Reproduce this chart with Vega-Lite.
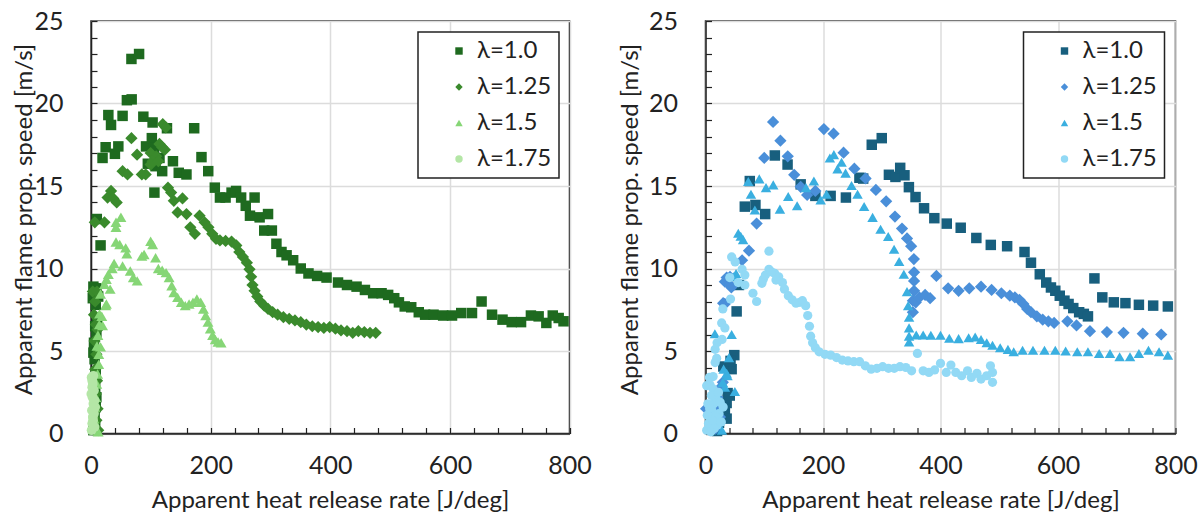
{
"$schema": "https://vega.github.io/schema/vega-lite/v6.json",
"autosize": {"type": "pad"},
"padding": {"left": 11, "top": 8, "right": 5, "bottom": 5},
"background": "white",
"bounds": "flush",
"spacing": 135.5,
"config": {
  "font": "Lato",
  "view": {"stroke": "#222", "strokeWidth": 1.5},
  "axis": {"domainColor": "#222", "domainWidth": 1.5, "tickColor": "#222", "tickWidth": 1.2, "tickSize": -6, "gridColor": "#dcdcdc", "gridWidth": 1.5, "labelFont": "Lato", "labelFontSize": 25, "labelColor": "#222", "titleFont": "Lato", "titleFontSize": 24, "titleFontWeight": "normal", "titleColor": "#222", "labelFlush": false, "labelOverlap": false},
  "axisX": {"labelPadding": 26},
  "axisY": {"labelPadding": 34},
  "legend": {"strokeColor": "#222", "strokeWidth": 1.5, "fillColor": "white", "padding": 7, "labelFont": "Lato", "labelFontSize": 24, "labelColor": "#222", "symbolSize": 55, "rowPadding": 12, "labelOffset": 6, "symbolOffset": 22, "orient": "top-right", "offset": 11}
},
"resolve": {"scale": {"color": "independent", "shape": "independent"}, "legend": {"color": "independent", "shape": "independent"}},
"datasets": {
"L": [
{"s":"λ=1.0","x":67.6,"y":22.7},{"s":"λ=1.0","x":80.4,"y":23.0},{"s":"λ=1.0","x":60,"y":20.2},{"s":"λ=1.0","x":68,"y":20.25},{"s":"λ=1.0","x":29,"y":19.3},{"s":"λ=1.0","x":33.5,"y":18.7},{"s":"λ=1.0","x":52.8,"y":19.25},{"s":"λ=1.0","x":87.5,"y":19.2},{"s":"λ=1.0","x":103,"y":18.85},{"s":"λ=1.0","x":127,"y":18.5},{"s":"λ=1.0","x":172.5,"y":18.5},{"s":"λ=1.0","x":24.5,"y":17.35},{"s":"λ=1.0","x":19.3,"y":16.7},{"s":"λ=1.0","x":40,"y":16.95},{"s":"λ=1.0","x":45.7,"y":17.4},{"s":"λ=1.0","x":92,"y":17.4},{"s":"λ=1.0","x":101.7,"y":17.9},{"s":"λ=1.0","x":105.5,"y":17.3},{"s":"λ=1.0","x":95,"y":16.35},{"s":"λ=1.0","x":108,"y":16.2},{"s":"λ=1.0","x":114.5,"y":16.7},{"s":"λ=1.0","x":119,"y":15.9},{"s":"λ=1.0","x":137,"y":16.5},{"s":"λ=1.0","x":146.7,"y":15.8},{"s":"λ=1.0","x":159.6,"y":15.7},{"s":"λ=1.0","x":184.7,"y":16.75},{"s":"λ=1.0","x":196,"y":15.9},{"s":"λ=1.0","x":106,"y":14.6},{"s":"λ=1.0","x":207,"y":14.9},{"s":"λ=1.0","x":215.6,"y":14.3},{"s":"λ=1.0","x":225,"y":14.3},{"s":"λ=1.0","x":235,"y":14.6},{"s":"λ=1.0","x":242.6,"y":14.7},{"s":"λ=1.0","x":251,"y":14.3},{"s":"λ=1.0","x":258.7,"y":13.8},{"s":"λ=1.0","x":273.5,"y":14.3},{"s":"λ=1.0","x":265.8,"y":13.2},{"s":"λ=1.0","x":281.9,"y":13.1},{"s":"λ=1.0","x":296,"y":13.3},{"s":"λ=1.0","x":289.6,"y":12.3},{"s":"λ=1.0","x":302.4,"y":12.3},{"s":"λ=1.0","x":310,"y":11.5},{"s":"λ=1.0","x":318.5,"y":11.0},{"s":"λ=1.0","x":327,"y":10.8},{"s":"λ=1.0","x":338,"y":10.5},{"s":"λ=1.0","x":350.7,"y":10.0},{"s":"λ=1.0","x":363.6,"y":9.7},{"s":"λ=1.0","x":378,"y":9.55},{"s":"λ=1.0","x":393.8,"y":9.45},{"s":"λ=1.0","x":413,"y":9.15},{"s":"λ=1.0","x":428,"y":9.0},{"s":"λ=1.0","x":444,"y":8.9},{"s":"λ=1.0","x":458,"y":8.7},{"s":"λ=1.0","x":471.7,"y":8.5},{"s":"λ=1.0","x":485.8,"y":8.5},{"s":"λ=1.0","x":496.8,"y":8.4},{"s":"λ=1.0","x":507,"y":8.2},{"s":"λ=1.0","x":514.8,"y":7.95},{"s":"λ=1.0","x":524.5,"y":7.7},{"s":"λ=1.0","x":535.4,"y":7.65},{"s":"λ=1.0","x":548,"y":7.35},{"s":"λ=1.0","x":558.6,"y":7.2},{"s":"λ=1.0","x":572.7,"y":7.2},{"s":"λ=1.0","x":588.8,"y":7.15},{"s":"λ=1.0","x":603.6,"y":7.15},{"s":"λ=1.0","x":619,"y":7.3},{"s":"λ=1.0","x":637,"y":7.3},{"s":"λ=1.0","x":653,"y":8.0},{"s":"λ=1.0","x":670.5,"y":7.2},{"s":"λ=1.0","x":688,"y":6.9},{"s":"λ=1.0","x":703.4,"y":6.75},{"s":"λ=1.0","x":719,"y":6.75},{"s":"λ=1.0","x":735.5,"y":7.15},{"s":"λ=1.0","x":748.4,"y":7.1},{"s":"λ=1.0","x":761.3,"y":6.7},{"s":"λ=1.0","x":772,"y":7.15},{"s":"λ=1.0","x":781.9,"y":7.0},{"s":"λ=1.0","x":790,"y":6.8},
{"s":"λ=1.0","x":9.7,"y":13.0},{"s":"λ=1.0","x":16,"y":11.4},{"s":"λ=1.0","x":4,"y":8.9},{"s":"λ=1.0","x":6.4,"y":8.5},{"s":"λ=1.0","x":9,"y":8.8},{"s":"λ=1.0","x":12,"y":8.3},{"s":"λ=1.0","x":3,"y":8.2},{"s":"λ=1.0","x":8,"y":7.8},{"s":"λ=1.0","x":10,"y":6.8},{"s":"λ=1.0","x":7,"y":6.5},{"s":"λ=1.0","x":9,"y":6.1},{"s":"λ=1.0","x":5,"y":5.5},{"s":"λ=1.0","x":4,"y":4.9},{"s":"λ=1.0","x":6,"y":4.5},{"s":"λ=1.0","x":8,"y":3.6},{"s":"λ=1.0","x":7,"y":2.8},{"s":"λ=1.0","x":9,"y":2.2},{"s":"λ=1.0","x":8,"y":1.6},{"s":"λ=1.0","x":6,"y":1.0},{"s":"λ=1.0","x":7,"y":0.5},{"s":"λ=1.0","x":4,"y":0.2},
{"s":"λ=1.25","x":67.6,"y":17.9},{"s":"λ=1.25","x":77,"y":16.9},{"s":"λ=1.25","x":52.8,"y":15.9},{"s":"λ=1.25","x":61,"y":15.7},{"s":"λ=1.25","x":85,"y":15.7},{"s":"λ=1.25","x":91.4,"y":15.7},{"s":"λ=1.25","x":120,"y":18.75},{"s":"λ=1.25","x":125,"y":18.55},{"s":"λ=1.25","x":114.5,"y":17.55},{"s":"λ=1.25","x":119,"y":17.35},{"s":"λ=1.25","x":123.5,"y":17.2},{"s":"λ=1.25","x":99.7,"y":17.0},{"s":"λ=1.25","x":109,"y":16.8},{"s":"λ=1.25","x":103,"y":16.5},{"s":"λ=1.25","x":99.7,"y":16.3},{"s":"λ=1.25","x":112.6,"y":16.5},{"s":"λ=1.25","x":33.5,"y":14.7},{"s":"λ=1.25","x":27.7,"y":14.3},{"s":"λ=1.25","x":37.3,"y":14.25},{"s":"λ=1.25","x":43,"y":14.0},{"s":"λ=1.25","x":22.5,"y":12.8},{"s":"λ=1.25","x":6.4,"y":12.8},{"s":"λ=1.25","x":128.7,"y":14.9},{"s":"λ=1.25","x":134,"y":14.6},{"s":"λ=1.25","x":138.5,"y":14.1},{"s":"λ=1.25","x":144.8,"y":13.4},{"s":"λ=1.25","x":153,"y":14.25},{"s":"λ=1.25","x":159.6,"y":13.3},{"s":"λ=1.25","x":166,"y":12.5},{"s":"λ=1.25","x":173.7,"y":12.1},{"s":"λ=1.25","x":181.5,"y":13.2},{"s":"λ=1.25","x":190,"y":12.8},{"s":"λ=1.25","x":196.3,"y":12.5},{"s":"λ=1.25","x":202.7,"y":12.1},{"s":"λ=1.25","x":209,"y":11.8},{"s":"λ=1.25","x":215.6,"y":11.7},{"s":"λ=1.25","x":225,"y":11.67},{"s":"λ=1.25","x":235,"y":11.63},{"s":"λ=1.25","x":243,"y":11.4},{"s":"λ=1.25","x":248,"y":11.0},{"s":"λ=1.25","x":254,"y":10.7},{"s":"λ=1.25","x":260.6,"y":10.35},{"s":"λ=1.25","x":265,"y":9.95},{"s":"λ=1.25","x":267.7,"y":9.5},{"s":"λ=1.25","x":270,"y":9.0},{"s":"λ=1.25","x":273.5,"y":8.65},{"s":"λ=1.25","x":278,"y":8.3},{"s":"λ=1.25","x":283,"y":8.0},{"s":"λ=1.25","x":289.6,"y":7.75},{"s":"λ=1.25","x":296,"y":7.55},{"s":"λ=1.25","x":303.7,"y":7.35},{"s":"λ=1.25","x":312,"y":7.2},{"s":"λ=1.25","x":321.7,"y":7.05},{"s":"λ=1.25","x":331.4,"y":6.95},{"s":"λ=1.25","x":341,"y":6.85},{"s":"λ=1.25","x":350.7,"y":6.75},{"s":"λ=1.25","x":360,"y":6.6},{"s":"λ=1.25","x":370,"y":6.5},{"s":"λ=1.25","x":379.7,"y":6.45},{"s":"λ=1.25","x":389.3,"y":6.4},{"s":"λ=1.25","x":399,"y":6.45},{"s":"λ=1.25","x":408.6,"y":6.35},{"s":"λ=1.25","x":418,"y":6.25},{"s":"λ=1.25","x":428,"y":6.2},{"s":"λ=1.25","x":437.6,"y":6.1},{"s":"λ=1.25","x":447,"y":6.2},{"s":"λ=1.25","x":457,"y":6.15},{"s":"λ=1.25","x":466.5,"y":6.1},{"s":"λ=1.25","x":476,"y":6.1},
{"s":"λ=1.25","x":3,"y":8.6},{"s":"λ=1.25","x":7,"y":8.0},{"s":"λ=1.25","x":10,"y":8.6},{"s":"λ=1.25","x":5,"y":7.2},{"s":"λ=1.25","x":8,"y":6.6},{"s":"λ=1.25","x":11,"y":6.3},{"s":"λ=1.25","x":6,"y":5.6},{"s":"λ=1.25","x":9,"y":4.8},{"s":"λ=1.25","x":7,"y":3.9},{"s":"λ=1.25","x":10,"y":3.2},{"s":"λ=1.25","x":8,"y":2.4},{"s":"λ=1.25","x":11,"y":1.5},{"s":"λ=1.25","x":9,"y":0.8},{"s":"λ=1.25","x":12,"y":0.2},
{"s":"λ=1.5","x":50,"y":13.1},{"s":"λ=1.5","x":41.8,"y":12.8},{"s":"λ=1.5","x":41.8,"y":12.5},{"s":"λ=1.5","x":41.8,"y":11.6},{"s":"λ=1.5","x":48,"y":11.45},{"s":"λ=1.5","x":58,"y":11.25},{"s":"λ=1.5","x":60,"y":10.9},{"s":"λ=1.5","x":38.6,"y":10.3},{"s":"λ=1.5","x":35.4,"y":10.0},{"s":"λ=1.5","x":29,"y":9.65},{"s":"λ=1.5","x":25.7,"y":9.35},{"s":"λ=1.5","x":22.5,"y":9.05},{"s":"λ=1.5","x":32,"y":8.75},{"s":"λ=1.5","x":16,"y":8.45},{"s":"λ=1.5","x":25.7,"y":7.85},{"s":"λ=1.5","x":52.8,"y":10.15},{"s":"λ=1.5","x":65.6,"y":9.85},{"s":"λ=1.5","x":70.8,"y":9.45},{"s":"λ=1.5","x":77.2,"y":9.25},{"s":"λ=1.5","x":85,"y":10.75},{"s":"λ=1.5","x":88.8,"y":10.85},{"s":"λ=1.5","x":99.7,"y":11.65},{"s":"λ=1.5","x":103,"y":11.45},{"s":"λ=1.5","x":108,"y":10.65},{"s":"λ=1.5","x":112.6,"y":10.0},{"s":"λ=1.5","x":119,"y":9.9},{"s":"λ=1.5","x":125.5,"y":9.75},{"s":"λ=1.5","x":130.6,"y":9.45},{"s":"λ=1.5","x":135,"y":8.95},{"s":"λ=1.5","x":138.5,"y":8.55},{"s":"λ=1.5","x":144.8,"y":8.25},{"s":"λ=1.5","x":151,"y":7.95},{"s":"λ=1.5","x":157.6,"y":7.75},{"s":"λ=1.5","x":164,"y":7.85},{"s":"λ=1.5","x":170.5,"y":7.95},{"s":"λ=1.5","x":177,"y":8.15},{"s":"λ=1.5","x":183.4,"y":7.95},{"s":"λ=1.5","x":188,"y":7.55},{"s":"λ=1.5","x":191.8,"y":7.15},{"s":"λ=1.5","x":195.6,"y":6.75},{"s":"λ=1.5","x":199.5,"y":6.35},{"s":"λ=1.5","x":203.3,"y":5.95},{"s":"λ=1.5","x":207.8,"y":5.7},{"s":"λ=1.5","x":212.4,"y":5.55},{"s":"λ=1.5","x":217.5,"y":5.5},
{"s":"λ=1.5","x":3.2,"y":0.3},{"s":"λ=1.5","x":6.4,"y":1.6},{"s":"λ=1.5","x":9.7,"y":3.0},{"s":"λ=1.5","x":12.9,"y":4.2},{"s":"λ=1.5","x":16,"y":5.25},{"s":"λ=1.5","x":11.6,"y":5.95},{"s":"λ=1.5","x":19.3,"y":6.55},{"s":"λ=1.5","x":14.2,"y":7.25},{"s":"λ=1.5","x":24.5,"y":7.75},{"s":"λ=1.5","x":8,"y":2.2},{"s":"λ=1.5","x":11,"y":3.6},{"s":"λ=1.5","x":13,"y":4.8},{"s":"λ=1.5","x":10,"y":5.3},{"s":"λ=1.5","x":5,"y":0.9},{"s":"λ=1.5","x":12,"y":0.1},{"s":"λ=1.5","x":14,"y":6.6},{"s":"λ=1.5","x":18,"y":7.1},
{"s":"λ=1.75","x":1,"y":0.2},{"s":"λ=1.75","x":2,"y":0.6},{"s":"λ=1.75","x":3,"y":1.0},{"s":"λ=1.75","x":1.5,"y":1.4},{"s":"λ=1.75","x":4,"y":1.8},{"s":"λ=1.75","x":2.5,"y":2.2},{"s":"λ=1.75","x":5,"y":2.6},{"s":"λ=1.75","x":3,"y":3.0},{"s":"λ=1.75","x":1,"y":3.4},{"s":"λ=1.75","x":4,"y":3.5},{"s":"λ=1.75","x":6,"y":0.4},{"s":"λ=1.75","x":5,"y":1.2},{"s":"λ=1.75","x":2,"y":2.8},{"s":"λ=1.75","x":6,"y":2.0},{"s":"λ=1.75","x":0.5,"y":2.4},{"s":"λ=1.75","x":3.5,"y":0.8},{"s":"λ=1.75","x":7,"y":1.6},{"s":"λ=1.75","x":2,"y":3.2}
],
"R": [
{"s":"λ=1.0","x":118,"y":16.85},{"s":"λ=1.0","x":139.7,"y":16.3},{"s":"λ=1.0","x":162,"y":15.1},{"s":"λ=1.0","x":66.9,"y":13.75},{"s":"λ=1.0","x":75.4,"y":15.3},{"s":"λ=1.0","x":85,"y":13.85},{"s":"λ=1.0","x":101.6,"y":13.3},{"s":"λ=1.0","x":187,"y":14.4},{"s":"λ=1.0","x":213,"y":14.4},{"s":"λ=1.0","x":239,"y":14.3},{"s":"λ=1.0","x":262,"y":15.5},{"s":"λ=1.0","x":268.4,"y":15.45},{"s":"λ=1.0","x":283,"y":17.5},{"s":"λ=1.0","x":300,"y":17.9},{"s":"λ=1.0","x":312.2,"y":15.68},{"s":"λ=1.0","x":323.3,"y":15.55},{"s":"λ=1.0","x":331.4,"y":16.1},{"s":"λ=1.0","x":338.7,"y":15.65},{"s":"λ=1.0","x":346.2,"y":14.93},{"s":"λ=1.0","x":357.5,"y":14.33},{"s":"λ=1.0","x":372,"y":13.65},{"s":"λ=1.0","x":389.5,"y":13.05},{"s":"λ=1.0","x":410.7,"y":12.72},{"s":"λ=1.0","x":434.4,"y":12.47},{"s":"λ=1.0","x":461,"y":11.85},{"s":"λ=1.0","x":485.6,"y":11.43},{"s":"λ=1.0","x":513.4,"y":11.35},{"s":"λ=1.0","x":543,"y":11.0},{"s":"λ=1.0","x":554,"y":10.35},{"s":"λ=1.0","x":569,"y":9.65},{"s":"λ=1.0","x":580,"y":9.15},{"s":"λ=1.0","x":588,"y":8.85},{"s":"λ=1.0","x":595.4,"y":8.65},{"s":"λ=1.0","x":603,"y":8.35},{"s":"λ=1.0","x":611,"y":8.05},{"s":"λ=1.0","x":618,"y":7.85},{"s":"λ=1.0","x":626,"y":7.6},{"s":"λ=1.0","x":636,"y":7.35},{"s":"λ=1.0","x":644,"y":7.25},{"s":"λ=1.0","x":651,"y":7.1},{"s":"λ=1.0","x":662,"y":9.4},{"s":"λ=1.0","x":675.4,"y":8.25},{"s":"λ=1.0","x":695,"y":7.95},{"s":"λ=1.0","x":714.8,"y":7.9},{"s":"λ=1.0","x":737.7,"y":7.8},{"s":"λ=1.0","x":762,"y":7.75},{"s":"λ=1.0","x":787,"y":7.7},
{"s":"λ=1.0","x":53,"y":7.4},{"s":"λ=1.0","x":57,"y":9.0},{"s":"λ=1.0","x":49,"y":4.75},{"s":"λ=1.0","x":44.5,"y":3.9},{"s":"λ=1.0","x":30.3,"y":4.06},{"s":"λ=1.0","x":42.6,"y":4.4},{"s":"λ=1.0","x":37.6,"y":2.45},{"s":"λ=1.0","x":36,"y":1.85},{"s":"λ=1.0","x":33,"y":1.33},{"s":"λ=1.0","x":36,"y":0.9},{"s":"λ=1.0","x":41.3,"y":2.3},{"s":"λ=1.0","x":29.5,"y":1.55},{"s":"λ=1.0","x":26,"y":1.05},{"s":"λ=1.0","x":23,"y":0.65},{"s":"λ=1.0","x":19.7,"y":0.15},
{"s":"λ=1.25","x":115,"y":18.88},{"s":"λ=1.25","x":127.5,"y":17.75},{"s":"λ=1.25","x":140,"y":16.8},{"s":"λ=1.25","x":100,"y":16.7},{"s":"λ=1.25","x":151,"y":15.68},{"s":"λ=1.25","x":162,"y":14.95},{"s":"λ=1.25","x":173,"y":14.46},{"s":"λ=1.25","x":187,"y":14.7},{"s":"λ=1.25","x":87,"y":12.72},{"s":"λ=1.25","x":74,"y":11.08},{"s":"λ=1.25","x":62.3,"y":10.5},{"s":"λ=1.25","x":44,"y":8.85},{"s":"λ=1.25","x":36,"y":9.45},{"s":"λ=1.25","x":32.8,"y":7.85},{"s":"λ=1.25","x":201.5,"y":18.45},{"s":"λ=1.25","x":218,"y":18.17},{"s":"λ=1.25","x":235,"y":17.02},{"s":"λ=1.25","x":253.4,"y":16.05},{"s":"λ=1.25","x":272.5,"y":15.46},{"s":"λ=1.25","x":290,"y":14.76},{"s":"λ=1.25","x":307.5,"y":14.07},{"s":"λ=1.25","x":322.5,"y":13.15},{"s":"λ=1.25","x":334.5,"y":12.42},{"s":"λ=1.25","x":343,"y":11.82},{"s":"λ=1.25","x":350,"y":11.35},{"s":"λ=1.25","x":354.7,"y":10.57},{"s":"λ=1.25","x":355,"y":9.77},{"s":"λ=1.25","x":355,"y":9.25},{"s":"λ=1.25","x":355,"y":8.65},{"s":"λ=1.25","x":353,"y":8.05},{"s":"λ=1.25","x":358,"y":7.95},{"s":"λ=1.25","x":353,"y":7.35},{"s":"λ=1.25","x":364,"y":8.25},{"s":"λ=1.25","x":373.8,"y":8.4},{"s":"λ=1.25","x":382.3,"y":8.2},{"s":"λ=1.25","x":393,"y":9.55},{"s":"λ=1.25","x":413,"y":8.8},{"s":"λ=1.25","x":430.8,"y":8.65},{"s":"λ=1.25","x":449,"y":8.8},{"s":"λ=1.25","x":469,"y":8.9},{"s":"λ=1.25","x":487,"y":8.7},{"s":"λ=1.25","x":503.6,"y":8.5},{"s":"λ=1.25","x":518,"y":8.35},{"s":"λ=1.25","x":526.6,"y":8.25},{"s":"λ=1.25","x":534.4,"y":8.1},{"s":"λ=1.25","x":541,"y":7.85},{"s":"λ=1.25","x":547.5,"y":7.55},{"s":"λ=1.25","x":554,"y":7.35},{"s":"λ=1.25","x":564,"y":7.1},{"s":"λ=1.25","x":574,"y":6.9},{"s":"λ=1.25","x":583.6,"y":6.8},{"s":"λ=1.25","x":593.4,"y":6.7},{"s":"λ=1.25","x":616,"y":6.8},{"s":"λ=1.25","x":631.5,"y":6.55},{"s":"λ=1.25","x":654.4,"y":6.2},{"s":"λ=1.25","x":683.3,"y":6.15},{"s":"λ=1.25","x":711.5,"y":6.1},{"s":"λ=1.25","x":744.3,"y":6.05},{"s":"λ=1.25","x":775.7,"y":6.0},
{"s":"λ=1.25","x":41.7,"y":9.5},{"s":"λ=1.25","x":33,"y":9.2},{"s":"λ=1.25","x":41.7,"y":9.0},{"s":"λ=1.25","x":30,"y":7.9},{"s":"λ=1.25","x":29.5,"y":3.1},{"s":"λ=1.25","x":24.6,"y":1.0},{"s":"λ=1.25","x":13,"y":0.5},{"s":"λ=1.25","x":1,"y":1.5},{"s":"λ=1.25","x":20,"y":2.2},{"s":"λ=1.25","x":26,"y":2.8},{"s":"λ=1.25","x":10,"y":1.2},{"s":"λ=1.25","x":17,"y":0.3},{"s":"λ=1.25","x":22,"y":1.6},
{"s":"λ=1.5","x":72.8,"y":15.27},{"s":"λ=1.5","x":91.5,"y":15.43},{"s":"λ=1.5","x":115.3,"y":15.07},{"s":"λ=1.5","x":103,"y":14.9},{"s":"λ=1.5","x":77.4,"y":14.5},{"s":"λ=1.5","x":84,"y":13.55},{"s":"λ=1.5","x":126.7,"y":13.6},{"s":"λ=1.5","x":140.8,"y":14.36},{"s":"λ=1.5","x":156,"y":13.8},{"s":"λ=1.5","x":171,"y":14.9},{"s":"λ=1.5","x":184.5,"y":15.3},{"s":"λ=1.5","x":196,"y":14.16},{"s":"λ=1.5","x":206,"y":14.5},{"s":"λ=1.5","x":211.7,"y":16.7},{"s":"λ=1.5","x":218.5,"y":16.9},{"s":"λ=1.5","x":224.8,"y":16.04},{"s":"λ=1.5","x":231.6,"y":16.44},{"s":"λ=1.5","x":238.4,"y":15.78},{"s":"λ=1.5","x":248.6,"y":15.03},{"s":"λ=1.5","x":258.8,"y":14.5},{"s":"λ=1.5","x":270,"y":13.76},{"s":"λ=1.5","x":284.4,"y":13.1},{"s":"λ=1.5","x":298,"y":12.38},{"s":"λ=1.5","x":311,"y":11.94},{"s":"λ=1.5","x":321,"y":11.17},{"s":"λ=1.5","x":329.6,"y":10.42},{"s":"λ=1.5","x":337.6,"y":9.65},{"s":"λ=1.5","x":343,"y":8.6},{"s":"λ=1.5","x":345,"y":7.75},{"s":"λ=1.5","x":346.5,"y":7.05},{"s":"λ=1.5","x":346.5,"y":6.4},{"s":"λ=1.5","x":346.5,"y":5.9},{"s":"λ=1.5","x":346.5,"y":5.55},{"s":"λ=1.5","x":358.7,"y":5.97},{"s":"λ=1.5","x":370.5,"y":5.97},{"s":"λ=1.5","x":383.6,"y":5.95},{"s":"λ=1.5","x":400,"y":5.95},{"s":"λ=1.5","x":415,"y":5.77},{"s":"λ=1.5","x":430.8,"y":5.75},{"s":"λ=1.5","x":447.9,"y":5.8},{"s":"λ=1.5","x":459,"y":5.85},{"s":"λ=1.5","x":469,"y":5.7},{"s":"λ=1.5","x":478.7,"y":5.5},{"s":"λ=1.5","x":488.5,"y":5.35},{"s":"λ=1.5","x":501.6,"y":5.2},{"s":"λ=1.5","x":514.8,"y":5.1},{"s":"λ=1.5","x":524.6,"y":4.95},{"s":"λ=1.5","x":539.7,"y":5.05},{"s":"λ=1.5","x":557.4,"y":5.05},{"s":"λ=1.5","x":577,"y":5.05},{"s":"λ=1.5","x":595.4,"y":5.05},{"s":"λ=1.5","x":613,"y":5.0},{"s":"λ=1.5","x":632.8,"y":4.95},{"s":"λ=1.5","x":651,"y":4.95},{"s":"λ=1.5","x":670,"y":4.85},{"s":"λ=1.5","x":688.5,"y":4.85},{"s":"λ=1.5","x":704.9,"y":4.65},{"s":"λ=1.5","x":722.6,"y":4.65},{"s":"λ=1.5","x":737.7,"y":4.85},{"s":"λ=1.5","x":754,"y":5.05},{"s":"λ=1.5","x":772,"y":4.95},{"s":"λ=1.5","x":787,"y":4.75},
{"s":"λ=1.5","x":55.8,"y":12.14},{"s":"λ=1.5","x":60,"y":11.95},{"s":"λ=1.5","x":64,"y":11.75},{"s":"λ=1.5","x":16,"y":6.05},{"s":"λ=1.5","x":44.5,"y":6.0},{"s":"λ=1.5","x":36,"y":3.65},{"s":"λ=1.5","x":30.8,"y":3.9},{"s":"λ=1.5","x":37.4,"y":3.5},{"s":"λ=1.5","x":29.5,"y":3.1},{"s":"λ=1.5","x":50,"y":2.55},{"s":"λ=1.5","x":48,"y":9.5},{"s":"λ=1.5","x":52,"y":9.7},{"s":"λ=1.5","x":25,"y":2.0},{"s":"λ=1.5","x":20,"y":1.2},{"s":"λ=1.5","x":12,"y":0.5},{"s":"λ=1.5","x":28,"y":0.2},{"s":"λ=1.5","x":33,"y":2.8},{"s":"λ=1.5","x":40,"y":4.6},
{"s":"λ=1.75","x":108,"y":11.05},{"s":"λ=1.75","x":98.4,"y":9.35},{"s":"λ=1.75","x":108,"y":9.95},{"s":"λ=1.75","x":118,"y":9.7},{"s":"λ=1.75","x":124.6,"y":9.5},{"s":"λ=1.75","x":131,"y":9.15},{"s":"λ=1.75","x":134.4,"y":8.75},{"s":"λ=1.75","x":141,"y":8.35},{"s":"λ=1.75","x":147.5,"y":8.1},{"s":"λ=1.75","x":154,"y":7.9},{"s":"λ=1.75","x":160.6,"y":7.95},{"s":"λ=1.75","x":165,"y":8.05},{"s":"λ=1.75","x":170.5,"y":7.75},{"s":"λ=1.75","x":174,"y":7.15},{"s":"λ=1.75","x":177,"y":6.5},{"s":"λ=1.75","x":179,"y":5.9},{"s":"λ=1.75","x":182.3,"y":5.5},{"s":"λ=1.75","x":187,"y":5.2},{"s":"λ=1.75","x":193.4,"y":4.95},{"s":"λ=1.75","x":203.3,"y":4.8},{"s":"λ=1.75","x":213,"y":4.75},{"s":"λ=1.75","x":223,"y":4.6},{"s":"λ=1.75","x":232.8,"y":4.45},{"s":"λ=1.75","x":242.6,"y":4.4},{"s":"λ=1.75","x":252.5,"y":4.35},{"s":"λ=1.75","x":262.3,"y":4.35},{"s":"λ=1.75","x":272,"y":4.1},{"s":"λ=1.75","x":282,"y":3.9},{"s":"λ=1.75","x":291.8,"y":3.95},{"s":"λ=1.75","x":301.6,"y":4.05},{"s":"λ=1.75","x":311.5,"y":3.95},{"s":"λ=1.75","x":321.3,"y":3.95},{"s":"λ=1.75","x":331,"y":4.05},{"s":"λ=1.75","x":341,"y":4.0},{"s":"λ=1.75","x":350.8,"y":3.8},{"s":"λ=1.75","x":360.7,"y":4.85},{"s":"λ=1.75","x":370.5,"y":3.8},{"s":"λ=1.75","x":380.3,"y":3.7},{"s":"λ=1.75","x":390,"y":3.85},{"s":"λ=1.75","x":400,"y":4.25},{"s":"λ=1.75","x":409.8,"y":3.7},{"s":"λ=1.75","x":417.7,"y":4.15},{"s":"λ=1.75","x":426,"y":3.7},{"s":"λ=1.75","x":436,"y":3.5},{"s":"λ=1.75","x":446,"y":3.8},{"s":"λ=1.75","x":452.5,"y":3.4},{"s":"λ=1.75","x":462,"y":3.65},{"s":"λ=1.75","x":469,"y":3.3},{"s":"λ=1.75","x":478.7,"y":3.5},{"s":"λ=1.75","x":485,"y":4.1},{"s":"λ=1.75","x":488.5,"y":3.7},{"s":"λ=1.75","x":488.5,"y":3.1},
{"s":"λ=1.75","x":102,"y":9.6},{"s":"λ=1.75","x":112,"y":9.8},{"s":"λ=1.75","x":120,"y":9.3},{"s":"λ=1.75","x":96,"y":9.1},
{"s":"λ=1.75","x":44.5,"y":10.7},{"s":"λ=1.75","x":50.5,"y":10.4},{"s":"λ=1.75","x":62.3,"y":9.95},{"s":"λ=1.75","x":55.7,"y":9.15},{"s":"λ=1.75","x":67,"y":9.6},{"s":"λ=1.75","x":67,"y":9.0},{"s":"λ=1.75","x":80.8,"y":8.5},{"s":"λ=1.75","x":87,"y":8.0},{"s":"λ=1.75","x":42.6,"y":8.15},{"s":"λ=1.75","x":41.3,"y":9.45},{"s":"λ=1.75","x":29.5,"y":7.55},{"s":"λ=1.75","x":27.5,"y":6.7},{"s":"λ=1.75","x":33,"y":6.4},{"s":"λ=1.75","x":28.2,"y":5.7},{"s":"λ=1.75","x":19.7,"y":5.5},{"s":"λ=1.75","x":16.4,"y":5.1},{"s":"λ=1.75","x":19,"y":4.56},{"s":"λ=1.75","x":16.4,"y":4.3},{"s":"λ=1.75","x":6.6,"y":3.4},{"s":"λ=1.75","x":13,"y":3.45},{"s":"λ=1.75","x":7.6,"y":2.95},{"s":"λ=1.75","x":2,"y":2.9},{"s":"λ=1.75","x":13,"y":2.7},
{"s":"λ=1.75","x":2,"y":0.2},{"s":"λ=1.75","x":5,"y":0.6},{"s":"λ=1.75","x":8,"y":1.0},{"s":"λ=1.75","x":11,"y":1.4},{"s":"λ=1.75","x":14,"y":1.8},{"s":"λ=1.75","x":17,"y":2.2},{"s":"λ=1.75","x":20,"y":0.5},{"s":"λ=1.75","x":23,"y":1.2},{"s":"λ=1.75","x":4,"y":1.8},{"s":"λ=1.75","x":10,"y":2.3},{"s":"λ=1.75","x":15,"y":0.3},{"s":"λ=1.75","x":18,"y":1.0},{"s":"λ=1.75","x":25,"y":1.9},{"s":"λ=1.75","x":7,"y":1.5},{"s":"λ=1.75","x":12,"y":0.8},{"s":"λ=1.75","x":22,"y":2.5},{"s":"λ=1.75","x":3,"y":1.1},{"s":"λ=1.75","x":27,"y":0.7},{"s":"λ=1.75","x":30,"y":1.6},{"s":"λ=1.75","x":9,"y":0.1}
]
},
"hconcat": [
{
  "width": 478.5, "height": 412.5,
  "data": {"name": "L"},
  "encoding": {
    "x": {"field": "x", "type": "quantitative", "scale": {"domain": [0, 800], "nice": false},
      "axis": {"title": "Apparent heat release rate [J/deg]", "values": [0,40,80,120,160,200,240,280,320,360,400,440,480,520,560,600,640,680,720,760,800], "labelExpr": "datum.value % 200 === 0 ? datum.label : ''", "gridOpacity": {"condition": {"test": "datum.value % 200 === 0", "value": 1}, "value": 0}, "titleX": 239, "titleY": 67, "titleBaseline": "middle"}},
    "y": {"field": "y", "type": "quantitative", "scale": {"domain": [0, 25], "nice": false},
      "axis": {"title": "Apparent flame prop. speed [m/s]", "values": [0,1,2,3,4,5,6,7,8,9,10,11,12,13,14,15,16,17,18,19,20,21,22,23,24,25], "labelExpr": "datum.value % 5 === 0 ? datum.label : ''", "gridOpacity": {"condition": {"test": "datum.value % 5 === 0", "value": 1}, "value": 0}, "titleX": -67, "titleY": 198, "titleBaseline": "middle", "titleAngle": -90}},
    "color": {"field": "s", "type": "nominal", "scale": {"domain": ["λ=1.0","λ=1.25","λ=1.5","λ=1.75"], "range": ["#1e6a1f","#3a8a2c","#86d676","#b4e6a6"]},
      "legend": {"title": null, "labelExpr": "datum.label + '\u00a0\u00a0\u00a0'"}},
    "shape": {"field": "s", "type": "nominal", "scale": {"domain": ["λ=1.0","λ=1.25","λ=1.5","λ=1.75"], "range": ["square","diamond","triangle-up","circle"]},
      "legend": {"title": null, "labelExpr": "datum.label + '\u00a0\u00a0\u00a0'"}}
  },
  "layer": [
    {"transform": [{"filter": "datum.s === 'λ=1.0'"}], "mark": {"type": "point", "filled": true, "opacity": 1, "size": 110}},
    {"transform": [{"filter": "datum.s === 'λ=1.25'"}], "mark": {"type": "point", "filled": true, "opacity": 1, "size": 150}},
    {"transform": [{"filter": "datum.s === 'λ=1.5'"}], "mark": {"type": "point", "filled": true, "opacity": 1, "size": 120}},
    {"transform": [{"filter": "datum.s === 'λ=1.75'"}], "mark": {"type": "point", "filled": true, "opacity": 1, "size": 95}}
  ]
},
{
  "width": 470, "height": 412.5,
  "data": {"name": "R"},
  "encoding": {
    "x": {"field": "x", "type": "quantitative", "scale": {"domain": [0, 800], "nice": false},
      "axis": {"title": "Apparent heat release rate [J/deg]", "values": [0,40,80,120,160,200,240,280,320,360,400,440,480,520,560,600,640,680,720,760,800], "labelExpr": "datum.value % 200 === 0 ? datum.label : ''", "gridOpacity": {"condition": {"test": "datum.value % 200 === 0", "value": 1}, "value": 0}, "titleX": 235, "titleY": 67, "titleBaseline": "middle"}},
    "y": {"field": "y", "type": "quantitative", "scale": {"domain": [0, 25], "nice": false},
      "axis": {"title": "Apparent flame prop. speed [m/s]", "values": [0,1,2,3,4,5,6,7,8,9,10,11,12,13,14,15,16,17,18,19,20,21,22,23,24,25], "labelExpr": "datum.value % 5 === 0 ? datum.label : ''", "gridOpacity": {"condition": {"test": "datum.value % 5 === 0", "value": 1}, "value": 0}, "titleX": -75, "titleY": 198, "titleBaseline": "middle", "titleAngle": -90}},
    "color": {"field": "s", "type": "nominal", "scale": {"domain": ["λ=1.0","λ=1.25","λ=1.5","λ=1.75"], "range": ["#185f7e","#4a8fd9","#3aafe0","#92d9f5"]},
      "legend": {"title": null, "labelExpr": "datum.label + '\u00a0\u00a0\u00a0'"}},
    "shape": {"field": "s", "type": "nominal", "scale": {"domain": ["λ=1.0","λ=1.25","λ=1.5","λ=1.75"], "range": ["square","diamond","triangle-up","circle"]},
      "legend": {"title": null, "labelExpr": "datum.label + '\u00a0\u00a0\u00a0'"}}
  },
  "layer": [
    {"transform": [{"filter": "datum.s === 'λ=1.0'"}], "mark": {"type": "point", "filled": true, "opacity": 1, "size": 110}},
    {"transform": [{"filter": "datum.s === 'λ=1.25'"}], "mark": {"type": "point", "filled": true, "opacity": 1, "size": 150}},
    {"transform": [{"filter": "datum.s === 'λ=1.5'"}], "mark": {"type": "point", "filled": true, "opacity": 1, "size": 110}},
    {"transform": [{"filter": "datum.s === 'λ=1.75'"}], "mark": {"type": "point", "filled": true, "opacity": 1, "size": 85}}
  ]
}
]
}
